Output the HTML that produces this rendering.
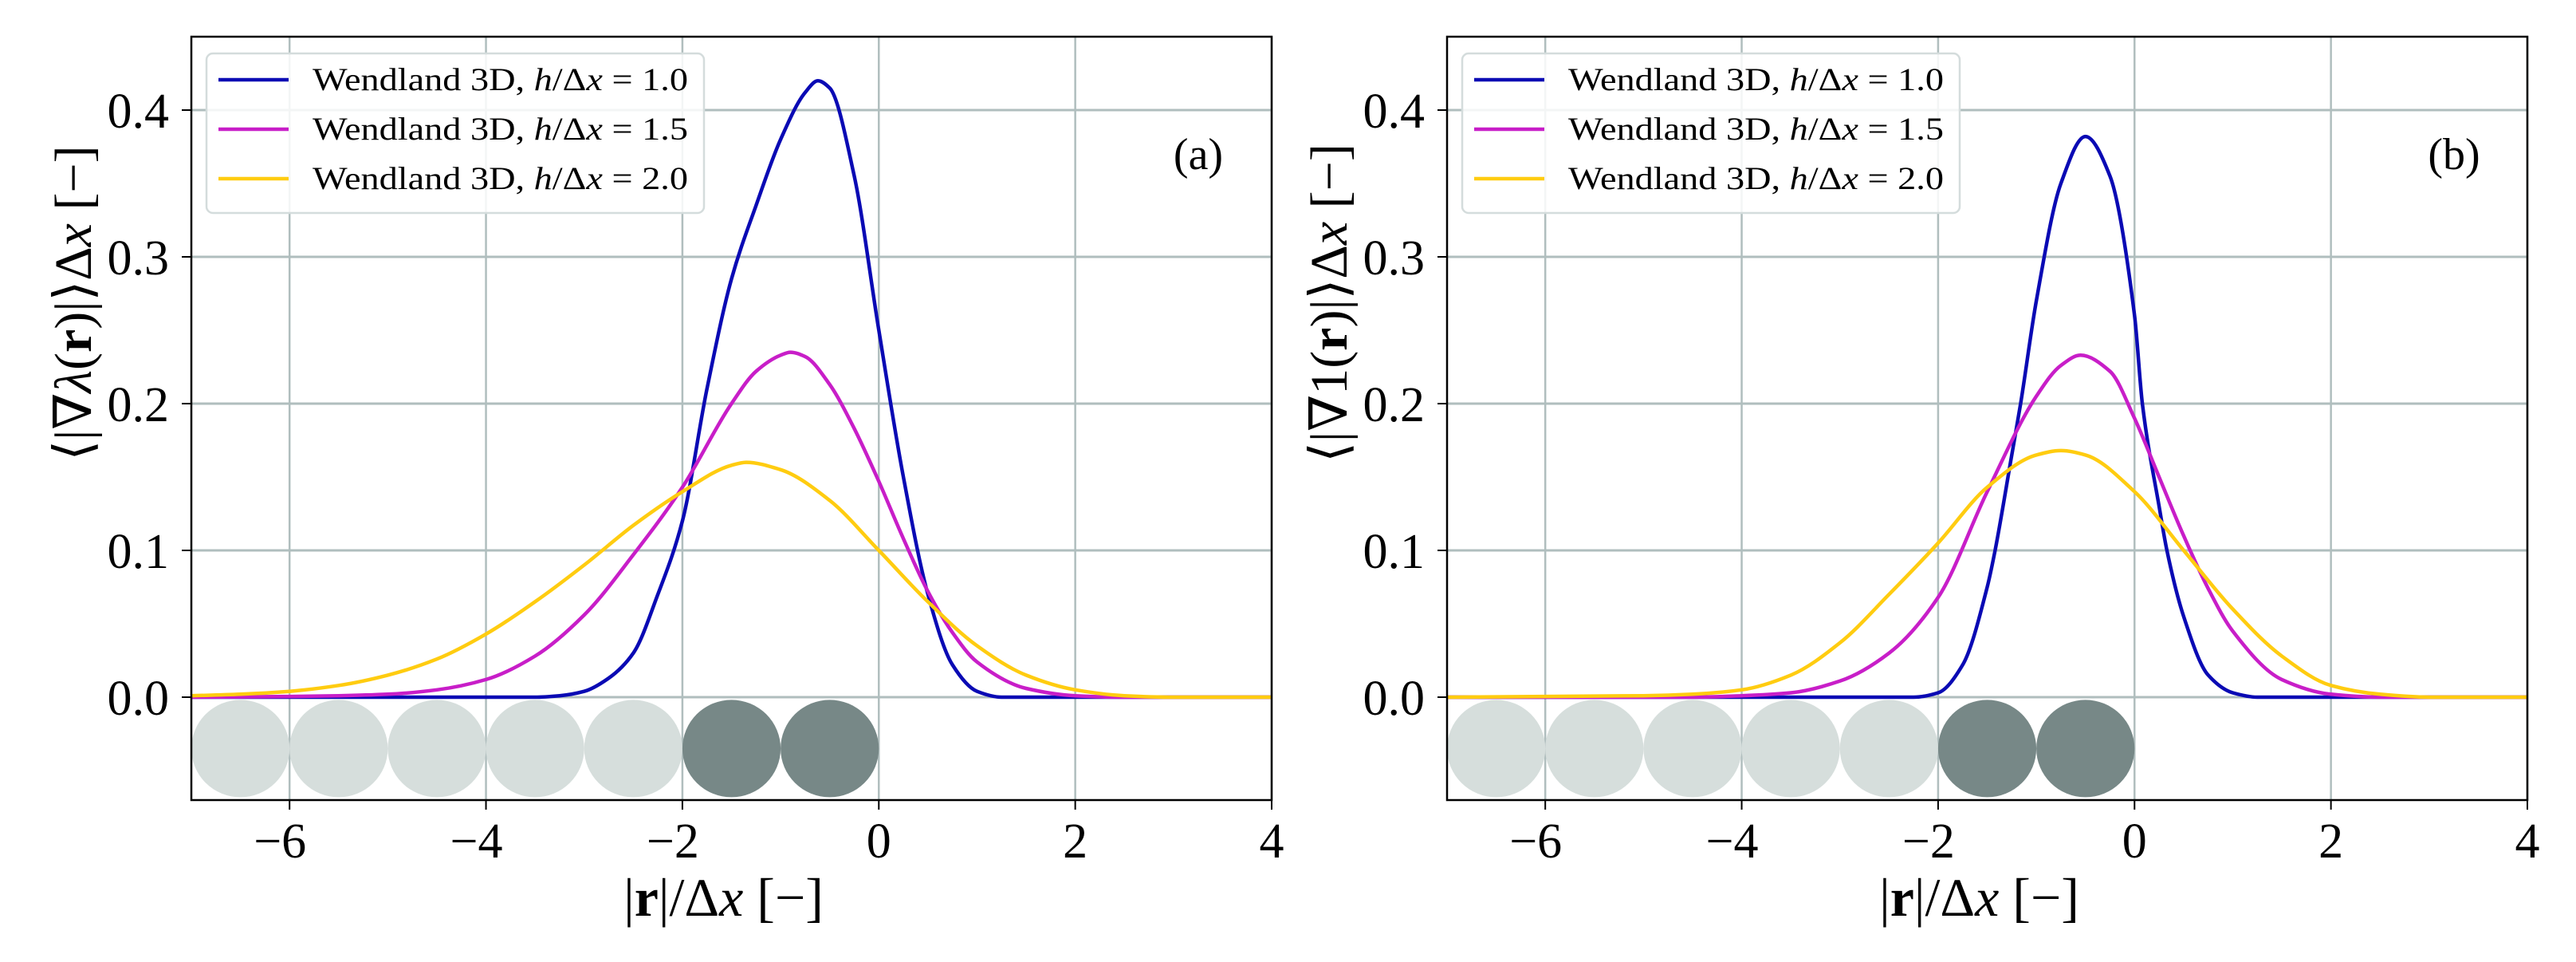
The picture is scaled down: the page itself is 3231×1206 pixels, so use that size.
<!DOCTYPE html>
<html><head><meta charset="utf-8">
<style>
html,body{margin:0;padding:0;background:#fff;}
svg{display:block;}
text{font-family:"Liberation Serif","DejaVu Serif",serif;fill:#000;}
</style></head>
<body>
<svg id="fig" width="3231" height="1206" viewBox="0 0 3231 1206" xmlns="http://www.w3.org/2000/svg"></svg>
<script>
// ---- data ----
const xTicks = [-6, -4, -2, 0, 2, 4];
const yTicks = [0.0, 0.1, 0.2, 0.3, 0.4];
const yTickLabels = ["0.0", "0.1", "0.2", "0.3", "0.4"];
const xTickLabels = ["\u22126", "\u22124", "\u22122", "0", "2", "4"];
const seriesNames = ["Wendland 3D, h/\u0394x = 1.0", "Wendland 3D, h/\u0394x = 1.5", "Wendland 3D, h/\u0394x = 2.0"];
const particleX = [-6.5, -5.5, -4.5, -3.5, -2.5, -1.5, -0.5];
const particleDark = [0, 0, 0, 0, 0, 1, 1];

const aBlueX = [-7, -3.5, -3.25, -3, -2.75, -2.5, -2.25, -2, -1.75, -1.5, -1.25, -1, -0.75, -0.62, -0.5, -0.25, 0, 0.25, 0.5, 0.75, 1, 1.25, 4];
const aBlueY = [0, 0, 0.001, 0.004, 0.013, 0.03, 0.07, 0.12, 0.21, 0.285, 0.335, 0.38, 0.412, 0.42, 0.415, 0.355, 0.25, 0.15, 0.07, 0.022, 0.004, 0, 0];
const aMagX = [-7, -6, -5.5, -5, -4.5, -4, -3.5, -3, -2.5, -2, -1.5, -1.25, -1, -0.9, -0.75, -0.5, -0.25, 0, 0.25, 0.5, 0.75, 1, 1.5, 2, 2.5, 4];
const aMagY = [0, 0.0005, 0.001, 0.002, 0.005, 0.012, 0.028, 0.056, 0.097, 0.143, 0.2, 0.222, 0.233, 0.235, 0.232, 0.213, 0.183, 0.147, 0.108, 0.072, 0.044, 0.024, 0.006, 0.001, 0, 0];
const aYelX = [-7, -6.5, -6, -5.5, -5, -4.5, -4, -3.5, -3, -2.5, -2, -1.5, -1.35, -1, -0.5, 0, 0.5, 1, 1.5, 2, 2.5, 3, 4];
const aYelY = [0.001, 0.002, 0.004, 0.008, 0.015, 0.026, 0.043, 0.065, 0.09, 0.117, 0.14, 0.158, 0.16, 0.155, 0.134, 0.1, 0.065, 0.035, 0.015, 0.005, 0.001, 0, 0];

const bBlueX = [-7, -2.25, -2, -1.75, -1.5, -1.42, -1.25, -1.16, -1, -0.75, -0.5, -0.25, 0, 0.08, 0.25, 0.33, 0.5, 0.75, 1, 1.25, 4];
const bBlueY = [0, 0, 0.003, 0.022, 0.075, 0.1, 0.165, 0.2, 0.27, 0.35, 0.382, 0.355, 0.26, 0.2, 0.13, 0.1, 0.055, 0.015, 0.003, 0, 0];
const bMagX = [-7, -4.5, -4, -3.5, -3, -2.5, -2, -1.5, -1, -0.75, -0.55, -0.25, 0, 0.25, 0.5, 0.75, 1, 1.5, 2, 2.5, 4];
const bMagY = [0, 0, 0.001, 0.003, 0.011, 0.03, 0.068, 0.14, 0.205, 0.226, 0.233, 0.222, 0.19, 0.15, 0.11, 0.074, 0.045, 0.012, 0.002, 0, 0];
const bYelX = [-7, -5, -4.5, -4, -3.5, -3, -2.5, -2, -1.5, -1, -0.75, -0.5, 0, 0.5, 1, 1.5, 2, 2.5, 3, 4];
const bYelY = [0, 0.001, 0.002, 0.005, 0.015, 0.037, 0.07, 0.105, 0.143, 0.165, 0.168, 0.165, 0.14, 0.1, 0.06, 0.028, 0.008, 0.002, 0, 0];

const colors = ["#0a0ab4", "#c81ec8", "#ffcc10"];
const NS = "http://www.w3.org/2000/svg";
const svg = document.getElementById("fig");

function el(tag, attrs, parent) {
  const e = document.createElementNS(NS, tag);
  for (const k in attrs) e.setAttribute(k, attrs[k]);
  (parent || svg).appendChild(e);
  return e;
}

function smoothPath(xs, ys, sx, sy) {
  const n = xs.length;
  const d = [], m = new Array(n);
  for (let i = 0; i < n - 1; i++) d.push((ys[i + 1] - ys[i]) / (xs[i + 1] - xs[i]));
  m[0] = d[0]; m[n - 1] = d[n - 2];
  for (let i = 1; i < n - 1; i++) {
    if (d[i - 1] * d[i] <= 0) m[i] = 0;
    else {
      const h0 = xs[i] - xs[i - 1], h1 = xs[i + 1] - xs[i];
      const w1 = 2 * h1 + h0, w2 = h1 + 2 * h0;
      m[i] = (w1 + w2) / (w1 / d[i - 1] + w2 / d[i]);
    }
  }
  let p = "M" + sx(xs[0]).toFixed(1) + "," + sy(ys[0]).toFixed(1);
  for (let i = 0; i < n - 1; i++) {
    const h = xs[i + 1] - xs[i];
    const c1x = xs[i] + h / 3, c1y = ys[i] + m[i] * h / 3;
    const c2x = xs[i + 1] - h / 3, c2y = ys[i + 1] - m[i + 1] * h / 3;
    p += "C" + sx(c1x).toFixed(1) + "," + sy(c1y).toFixed(1) + " " + sx(c2x).toFixed(1) + "," + sy(c2y).toFixed(1) + " " + sx(xs[i + 1]).toFixed(1) + "," + sy(ys[i + 1]).toFixed(1);
  }
  return p;
}

function panel(left, right, tag, ylabelMid, series) {
  const top = 46, bottom = 1003;
  const xmin = -7, xmax = 4, ymin = -0.0701, ymax = 0.45;
  const sx = v => left + (v - xmin) / (xmax - xmin) * (right - left);
  const sy = v => bottom - (v - ymin) / (ymax - ymin) * (bottom - top);
  const g = el("g", {});
  
  
  const clipId = "clip-" + tag;
  const cp = el("clipPath", {id: clipId}, g);
  el("rect", {x: left, y: top, width: right - left, height: bottom - top}, cp);

  xTicks.forEach(t => {
    const l = el("line", {x1: sx(t), x2: sx(t), y1: top, y2: bottom, stroke: "#b0bebe", "stroke-width": 2.5}, g);
    
    
  });
  yTicks.forEach(t => {
    const l = el("line", {x1: left, x2: right, y1: sy(t), y2: sy(t), stroke: "#b0bebe", "stroke-width": 3}, g);
    
    
  });

  const pg = el("g", {"clip-path": "url(#" + clipId + ")"}, g);
  particleX.forEach((px, i) => {
    const c = el("ellipse", {cx: sx(px), cy: sy(-0.035), rx: (sx(1) - sx(0)) / 2, ry: 61, fill: particleDark[i] ? "#778887" : "#d6dedc"}, pg);
    
    
  });

  const cg = el("g", {"clip-path": "url(#" + clipId + ")"}, g);
  series.forEach((s, i) => {
    const p = el("path", {d: smoothPath(s[0], s[1], sx, sy), fill: "none", stroke: colors[i], "stroke-width": 4.5, "stroke-linejoin": "round"}, cg);
    
    
  });

  const fr = el("rect", {x: left, y: top, width: right - left, height: bottom - top, fill: "none", stroke: "#000", "stroke-width": 2.5}, g);
  
  

  xTicks.forEach((t, i) => {
    el("line", {x1: sx(t), x2: sx(t), y1: bottom, y2: bottom + 12, stroke: "#000", "stroke-width": 2}, g);
    const tx = el("text", {x: sx(t) - (t < 0 ? 12 : 0), y: 1075, "font-size": 62, "text-anchor": "middle"}, g);
    tx.textContent = xTickLabels[i];
    
    
  });
  yTicks.forEach((t, i) => {
    el("line", {x1: left - 12, x2: left, y1: sy(t), y2: sy(t), stroke: "#000", "stroke-width": 2}, g);
    const tx = el("text", {x: left - 28, y: sy(t) + 22, "font-size": 62, "text-anchor": "end"}, g);
    tx.textContent = yTickLabels[i];
    
    
  });

  const xl = el("text", {x: (left + right) / 2 - 10, y: 1148, "font-size": 68, "text-anchor": "middle"}, g);
  
  
  xl.innerHTML = '|<tspan font-weight="bold">r</tspan>|/\u0394<tspan font-style="italic">x</tspan> [\u2212]';

  const yl = el("text", {x: 0, y: 0, "font-size": 66, "text-anchor": "middle", transform: "translate(" + (left - 126) + ",380) rotate(-90)"}, g);
  
  
  yl.innerHTML = '\u27E8|\u2207' + ylabelMid + '(<tspan font-weight="bold">r</tspan>)|\u27E9\u0394<tspan font-style="italic">x</tspan> [\u2212]';

  const pt = el("text", {x: right - 92, y: 212, "font-size": 56, "text-anchor": "middle"}, g);
  pt.textContent = "(" + tag + ")";
  
  

  const lg = el("g", {}, g);
  
  
  const lx = left + 19;
  el("rect", {x: lx, y: 67, width: 624, height: 200, rx: 8, fill: "rgba(255,255,255,0.85)", stroke: "#d4dcdc", "stroke-width": 2.5}, lg);
  seriesNames.forEach((n, i) => {
    const yy = 100 + i * 62;
    const e = el("g", {}, lg);
    
    
    el("line", {x1: lx + 15, x2: lx + 103, y1: yy, y2: yy, stroke: colors[i], "stroke-width": 4.5}, e);
    const t = el("text", {x: lx + 133, y: yy + 13, "font-size": 40, textLength: 471, lengthAdjust: "spacingAndGlyphs"}, e);
    t.innerHTML = 'Wendland 3D, <tspan font-style="italic">h</tspan>/\u0394<tspan font-style="italic">x</tspan> = ' + ["1.0", "1.5", "2.0"][i];
  });
}

panel(240, 1595, "a", '<tspan font-style="italic">\u03BB</tspan>', [[aBlueX, aBlueY], [aMagX, aMagY], [aYelX, aYelY]]);
panel(1815, 3170, "b", '1', [[bBlueX, bBlueY], [bMagX, bMagY], [bYelX, bYelY]]);
</script>
</body></html>
